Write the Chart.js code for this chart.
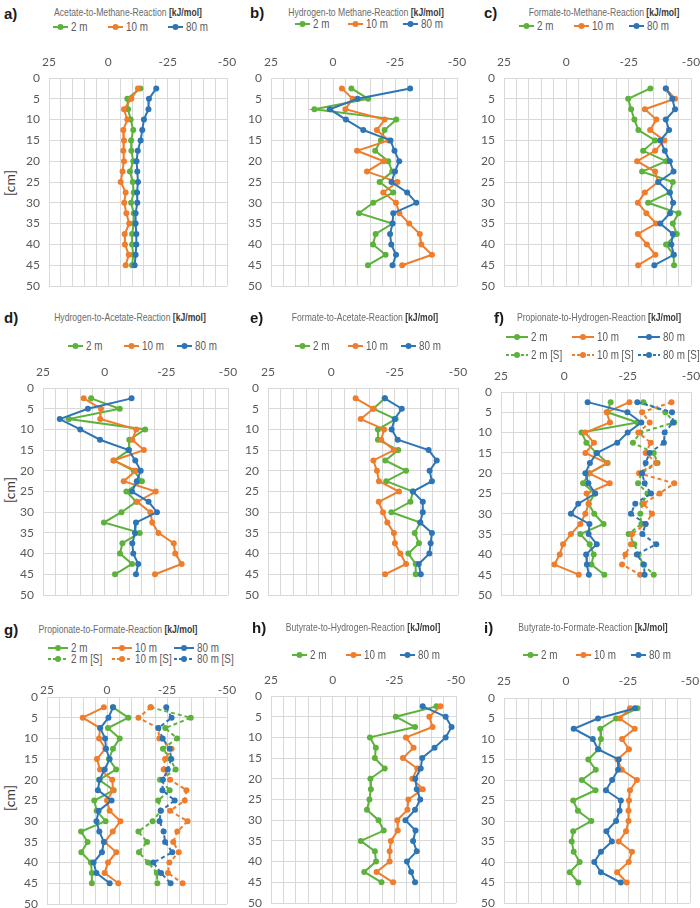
<!DOCTYPE html>
<html><head><meta charset="utf-8">
<script src="https://cdn.jsdelivr.net/npm/chart.js@4.4.0/dist/chart.umd.min.js"></script>
<style>
html,body{margin:0;padding:0;background:#fff;}
#wrap{position:relative;width:700px;height:908px;overflow:hidden;background:#fff;}
canvas{position:absolute;}
.lbl{position:absolute;font-weight:bold;font-size:15px;font-family:"Liberation Sans",Arial,sans-serif;color:#1a1a1a;transform:translateY(-50%);}
.ttl{position:absolute;white-space:nowrap;color:#6b6b6b;font-size:10.5px;line-height:12px;}
.ttl b{color:#3a3a3a;}
.legtxt{position:absolute;white-space:nowrap;color:#595959;font-size:12px;line-height:12px;transform-origin:left center;}
.mk{position:absolute;}
.ycap{position:absolute;color:#404040;font:14px Lato,sans-serif;transform:translate(-50%,-50%) rotate(-90deg);white-space:nowrap;}
</style></head>
<body><div id="wrap"></div>
<script>
// ---------- data ----------
const depths = [2.5,5,7.5,10,12.5,15,17.5,20,22.5,25,27.5,30,32.5,35,37.5,40,42.5,45];
const xTickLabels = [25, 0, -25, -50];
const yTickLabels = [0,5,10,15,20,25,30,35,40,45,50];

const acetateMethane_2m  = [-13.5,-8,-8.3,-9.4,-10.5,-9.6,-9.7,-10.5,-9.1,-10.3,-10.7,-9.6,-10.7,-10.7,-10,-10,-10.5,-10];
const acetateMethane_10m = [-12.5,-9.7,-6.6,-8,-6.3,-6.6,-6.3,-6.6,-6,-5.2,-7.3,-6.7,-7.6,-8.8,-6.9,-7,-8.6,-7.3];
const acetateMethane_80m = [-20.2,-17.1,-16.9,-15,-14.3,-13.6,-12.4,-11.9,-12.2,-12.5,-12.1,-12.2,-11.5,-11.5,-11.8,-11.8,-11.5,-11.1];

const hydrogenMethane_2m  = [-7.4,-14.2,7.5,-25.5,-20.8,-19.3,-17,-22.3,-23.9,-18.8,-24.3,-16.2,-10.5,-24,-17.2,-16.1,-21.2,-14.1];
const hydrogenMethane_10m = [-3.6,-7.9,-5,-20.8,-17.7,-22.4,-9.7,-20.5,-13.7,-26,-20.3,-25.4,-26.8,-30.7,-35,-35.6,-39.9,-27.9];
const hydrogenMethane_80m = [-31.1,-9.9,1.3,-5.2,-12.2,-23.2,-24.8,-26.7,-25,-23.6,-29.9,-33.6,-24.3,-24,-23,-23.5,-25.4,-24];

const formateMethane_2m  = [-33.7,-24.8,-26,-27.3,-28.9,-35.6,-30.8,-40,-30.4,-42.7,-41.5,-32.8,-45,-42.7,-44.3,-40,-43,-43.2];
const formateMethane_10m = [-39.9,-43.6,-31.5,-36.1,-33.6,-39.3,-35.6,-28.4,-35.6,-36.8,-31.5,-28.7,-32.1,-36,-28.7,-32.3,-35.7,-28.8];
const formateMethane_80m = [-39.9,-42.5,-43.6,-39.9,-41.2,-37.7,-39.5,-41.5,-43,-36.9,-41.5,-42.8,-41.6,-37.7,-42.7,-42.1,-43.1,-35.3];

const hydrogenAcetate_2m  = [5.5,-6.1,14.5,-16.4,-10,-9.9,-3.8,-11.8,-15.1,-8.8,-12.8,-6.8,0.3,-14.2,-7.2,-6.2,-11.1,-4.2];
const hydrogenAcetate_10m = [8.5,1.5,1.8,-12.8,-11.2,-15.9,-3.5,-12.7,-7.7,-20.7,-13.2,-18.5,-19.3,-21.8,-28,-28.6,-31.2,-20.4];
const hydrogenAcetate_80m = [-10.9,6.8,18.2,9.9,1.9,-9.7,-12.4,-14.6,-13,-11.1,-17.8,-21.2,-12.7,-12.3,-11.2,-11.6,-13.6,-12.7];

const formateAcetate_2m  = [-21.1,-16.6,-25.4,-18.4,-18.4,-26.4,-21.3,-29.5,-21.7,-32.2,-31.2,-23.7,-35.1,-32.9,-34.6,-30.4,-33.3,-33.3];
const formateAcetate_10m = [-9.6,-16.6,-11.6,-20.8,-19.7,-24.7,-16.6,-18,-18.8,-26.7,-18.7,-20.4,-22.1,-24.7,-25.1,-27.2,-29.5,-21.2];
const formateAcetate_80m = [-21.1,-27.8,-25,-23.8,-26.2,-38.4,-41.6,-38.8,-39.7,-32.2,-36.1,-36.1,-35.1,-39.7,-39.2,-38.7,-34.5,-35.3];

const propHydrogen_2m   = [-18.3,-17,-28.9,-6.8,-8.7,-12.6,-17.1,-9.9,-7.4,-12.1,-9.6,-11.8,-15.5,-6.3,-10,-11.6,-10.7,-15.8];
const propHydrogen_10m  = [-25.7,-16.7,-18,-8.2,-11.7,-8.3,-16.8,-9.7,-17.9,-8.8,-9.6,-8.3,-6.3,-2.6,0.5,1.8,3.9,-5.7];
const propHydrogen_80m  = [-9.2,-24.9,-30.4,-25,-20.9,-12.9,-10.1,-8.3,-9.5,-12.2,-5.5,-2.6,-9.9,-9.6,-12.8,-8.6,-8.9,-9.7];
const propHydrogen_2mS  = [-31.2,-39.9,-43.4,-30,-27.1,-35.3,-36.8,-30.4,-29.1,-32.8,-30.8,-30,-30.4,-25.4,-27.6,-29.3,-31.1,-35.3];
const propHydrogen_10mS = [-42.3,-30.7,-33.7,-29.2,-34.1,-32.1,-36.2,-29.5,-43.4,-37.6,-31.3,-34.6,-32,-26.7,-26.3,-24.1,-22.8,-29.9];
const propHydrogen_80mS = [-28.8,-42.5,-42.9,-39.6,-39.3,-33.6,-32.1,-30.7,-31.7,-34.2,-28,-26.3,-32.1,-30.8,-36.3,-28.6,-31.4,-31.7];

const propFormate_2m   = [-2.5,-8.9,-0.4,-5.3,-2.5,-0.8,-3.8,3.3,-2.8,5.3,4.3,0.6,10.8,8.1,10.7,6.7,6.3,6.3];
const propFormate_10m  = [1.3,10.1,2.9,3.3,0.7,4.2,2.9,-2.2,-2.5,0,-1.1,-5.6,-2.4,1,-3.9,-0.4,1,-4.7];
const propFormate_80m  = [-2.5,-0.6,2.8,0.8,0.4,-1.1,1,3.1,3.8,-1.9,3.5,4.4,3.2,1.3,2.1,5.6,4.4,-1.1];
const propFormate_2mS  = [-18.2,-34.9,-24.3,-29.2,-23.3,-26.4,-28.6,-22.1,-26.1,-21.3,-22.4,-19,-13.1,-16.7,-13.3,-17.1,-20.8,-21];
const propFormate_10mS = [-18.2,-13.1,-21.3,-21.8,-26.9,-24.2,-23.6,-26.3,-33.1,-32.4,-26.3,-33.6,-29.3,-27.6,-29.9,-26,-25.4,-31.5];
const propFormate_80mS = [-24.7,-26.9,-21.4,-23.2,-26.1,-26.8,-25.3,-23.3,-23.1,-28.2,-22.4,-21.9,-23.6,-24.2,-27.2,-19.3,-22.5,-26.5];

const butyrHydrogen_2m  = [-42.1,-25.6,-33.4,-15.1,-17.5,-17.1,-21.1,-15.3,-15.5,-14.9,-13.9,-18.6,-20.7,-11.4,-17.1,-17.6,-12.8,-19.8];
const butyrHydrogen_10m = [-43.7,-39.2,-40.5,-29.7,-32.8,-28.5,-34.3,-32.3,-36.5,-30.7,-30.3,-26.2,-26.4,-23.6,-23.1,-23.1,-17.8,-24.5];
const butyrHydrogen_80m = [-36.5,-45.8,-48.2,-45.8,-41.3,-36.3,-35.7,-33.5,-34.1,-35.5,-33.4,-29.5,-33.6,-32.6,-34.1,-30.1,-31.8,-33.4];

const butyrFormate_2m  = [-28.8,-20.2,-13.8,-14.1,-13.1,-9,-12,-6.4,-11.9,-2.9,-4.8,-10.2,-2.9,-2.3,-3.1,-5.5,-1.5,-5];
const butyrFormate_10m = [-25.8,-21.7,-27.7,-22.6,-25.4,-20.7,-22.5,-28.6,-25.8,-25.4,-25.2,-25.2,-24.2,-21.3,-26.6,-25.3,-20.6,-24.5];
const butyrFormate_80m = [-27.8,-12.9,-3.1,-10.8,-12.9,-21.3,-21,-18.6,-16.1,-22.1,-21.6,-20.2,-16.3,-18.5,-14.1,-11.4,-14.1,-22.1];

const seriesNames = ['2 m','10 m','80 m','2 m [S]','10 m [S]','80 m [S]'];
const titles = ['Acetate-to-Methane-Reaction','Hydrogen-to Methane-Reaction','Formate-to-Methane-Reaction',
  'Hydrogen-to-Acetate-Reaction','Formate-to-Acetate-Reaction','Propionate-to-Hydrogen-Reaction',
  'Propionate-to-Formate-Reaction','Butyrate-to-Hydrogen-Reaction','Butyrate-to-Formate-Reaction'];
const unitText = '[kJ/mol]';
const panelLabels = ['a)','b)','c)','d)','e)','f)','g)','h)','i)'];

// ---------- styling / layout ----------
const GREEN = '#5cb23a', ORANGE = '#ef7d2c', BLUE = '#2e75b6';
const colors = [GREEN, ORANGE, BLUE, GREEN, ORANGE, BLUE];

function hasFont(f){
  const c=document.createElement('canvas').getContext('2d');
  c.font='40px monospace'; const w1=c.measureText('abcdefgHIJKlmn').width;
  c.font='40px "'+f+'", monospace'; const w2=c.measureText('abcdefgHIJKlmn').width;
  return Math.abs(w1-w2)>0.5;
}
const NARROW = hasFont('Liberation Sans Narrow');
const narrowFamily = NARROW ? '"Liberation Sans Narrow"' : '"Liberation Sans", Arial, sans-serif';
const narrowScale = NARROW ? 1 : 0.82;

const panels = [
 {vals:[acetateMethane_2m,acetateMethane_10m,acetateMethane_80m], L:49,R:227,T:78,B:286,pad:9,cl:0,
  lx:4,ly:13,tx:128,ty:12,leg:[[53,27],[108,27],[168,27]],mk:15,ycap:[9,183]},
 {vals:[hydrogenMethane_2m,hydrogenMethane_10m,hydrogenMethane_80m], L:271,R:457,T:78,B:286,pad:9,cl:233,
  lx:250,ly:12,tx:366,ty:12,leg:[[295,24],[348,24],[403,24]],mk:15},
 {vals:[formateMethane_2m,formateMethane_10m,formateMethane_80m], L:504,R:691,T:78,B:286,pad:9,cl:466,
  lx:484,ly:12,tx:604,ty:12,leg:[[519,26],[574,26],[629,26]],mk:15},
 {vals:[hydrogenAcetate_2m,hydrogenAcetate_10m,hydrogenAcetate_80m], L:43,R:228,T:388,B:595,pad:9,cl:0,
  lx:4,ly:317,tx:130,ty:317,leg:[[68,346],[124,346],[177,346]],mk:15,ycap:[9,490]},
 {vals:[formateAcetate_2m,formateAcetate_10m,formateAcetate_80m], L:268,R:458,T:388,B:595,pad:9,cl:233,
  lx:250,ly:317,tx:365,ty:317,leg:[[295,346],[348,346],[401,346]],mk:15},
 {vals:[propHydrogen_2m,propHydrogen_10m,propHydrogen_80m,propHydrogen_2mS,propHydrogen_10mS,propHydrogen_80mS],
  L:501,R:691,T:392,B:595,pad:9,cl:466,
  lx:494,ly:317,tx:599,ty:317,leg:[[506,337],[572,337],[638,337],[506,355],[572,355],[638,355]],mk:22},
 {vals:[propFormate_2m,propFormate_10m,propFormate_80m,propFormate_2mS,propFormate_10mS,propFormate_80mS],
  L:47,R:227,T:697,B:904,pad:0,cl:0,
  lx:4,ly:629,tx:118,ty:629,leg:[[48,648],[112,648],[174,648],[48,659],[112,659],[174,659]],mk:20,ycap:[9,798]},
 {vals:[butyrHydrogen_2m,butyrHydrogen_10m,butyrHydrogen_80m], L:271,R:456,T:696,B:903,pad:9,cl:233,
  lx:252,ly:627,tx:363,ty:627,leg:[[292,655],[346,655],[400,655]],mk:15},
 {vals:[butyrFormate_2m,butyrFormate_10m,butyrFormate_80m], L:504,R:690,T:698,B:903,pad:10,cl:466,
  lx:484,ly:627,tx:593,ty:627,leg:[[523,655],[576,655],[631,655]],mk:15}
];

const wrap = document.getElementById('wrap');
const tickFont = {family:'Lato, "Open Sans", sans-serif', size:12};
const tickColor = '#595959';
const gridColor = '#d9d9d9';

function el(tag, cls, parent){const e=document.createElement(tag); if(cls) e.className=cls; (parent||wrap).appendChild(e); return e;}

panels.forEach((p, pi) => {
  const lb = el('div','lbl'); lb.textContent = panelLabels[pi]; lb.style.left=p.lx+'px'; lb.style.top=p.ly+'px';
  const t = el('div','ttl'); t.innerHTML = titles[pi] + ' <b>' + unitText + '</b>';
  t.style.fontFamily = narrowFamily; t.style.left=p.tx+'px'; t.style.top=p.ty+'px';
  t.style.transform = 'translate(-50%,-50%) scaleX('+narrowScale+')';
  p.vals.forEach((v, si) => {
    const [x,y] = p.leg[si];
    const dashed = si >= 3;
    const ns='http://www.w3.org/2000/svg';
    const svg=document.createElementNS(ns,'svg');
    svg.setAttribute('width',p.mk); svg.setAttribute('height',8);
    svg.setAttribute('class','mk');
    svg.style.left=x+'px'; svg.style.top=(y-4)+'px';
    const ln=document.createElementNS(ns,'line');
    ln.setAttribute('x1',0);ln.setAttribute('x2',p.mk);ln.setAttribute('y1',4);ln.setAttribute('y2',4);
    ln.setAttribute('stroke',colors[si]);ln.setAttribute('stroke-width',2);
    if(dashed) ln.setAttribute('stroke-dasharray','3,2');
    const ci=document.createElementNS(ns,'circle');
    ci.setAttribute('cx',p.mk/2);ci.setAttribute('cy',4);ci.setAttribute('r',3);ci.setAttribute('fill',colors[si]);
    svg.appendChild(ln);svg.appendChild(ci);wrap.appendChild(svg);
    const tx = el('div','legtxt'); tx.textContent = seriesNames[si];
    tx.style.fontFamily = narrowFamily;
    tx.style.left=(x+p.mk+3)+'px'; tx.style.top=(y-6)+'px';
    tx.style.transform='scaleX('+narrowScale+')';
  });
  if (p.ycap){
    const yc = el('div','ycap'); yc.textContent='[cm]'; yc.style.left=p.ycap[0]+'px'; yc.style.top=p.ycap[1]+'px';
  }
  const ct = p.T - 30, padR = 13, padB = 10;
  const cw = p.R + padR - p.cl, ch = p.B + padB - ct;
  const cv = el('canvas');
  cv.width=cw; cv.height=ch; cv.style.left=p.cl+'px'; cv.style.top=ct+'px';
  cv.style.width=cw+'px'; cv.style.height=ch+'px';
  const datasets = p.vals.map((vals, si) => ({
    label: seriesNames[si],
    data: depths.map((d,i)=>({x: vals[i], y: d})),
    showLine: true,
    borderColor: colors[si], backgroundColor: colors[si],
    pointBackgroundColor: colors[si], pointBorderColor: colors[si],
    borderWidth: 2, pointRadius: 3, pointHoverRadius: 3, pointBorderWidth: 0,
    borderDash: si>=3 ? [4,3] : [],
    order: 10 - si, tension: 0
  }));
  new Chart(cv, {
    type:'scatter',
    data:{datasets},
    options:{
      animation:false, responsive:false, devicePixelRatio:1,
      layout:{padding:{left:0,top:0,right:padR,bottom:padB}},
      plugins:{legend:{display:false},tooltip:{enabled:false}},
      scales:{
        x:{type:'linear',position:'top',reverse:true,min:-50,max:25,
           ticks:{stepSize:5,autoSkip:false,maxRotation:0,color:tickColor,font:tickFont,padding:0,
                  callback:(v)=> xTickLabels.includes(v) ? String(v) : ''},
           grid:{color:gridColor,drawTicks:true,tickLength:p.pad,tickColor:'rgba(0,0,0,0)',lineWidth:1}, border:{display:false},
           afterFit:(s)=>{s.height = p.T - ct;}},
        y:{type:'linear',position:'left',reverse:true,min:0,max:50,
           ticks:{stepSize:5,autoSkip:false,color:tickColor,font:tickFont,padding:0,
                  callback:(v)=> yTickLabels.includes(v) ? String(v) : ''},
           grid:{color:gridColor,drawTicks:true,tickLength:9,tickColor:'rgba(0,0,0,0)',lineWidth:1}, border:{display:false},
           afterFit:(s)=>{s.width = p.L - p.cl;}}
      }
    }
  });
});
</script></body></html>
